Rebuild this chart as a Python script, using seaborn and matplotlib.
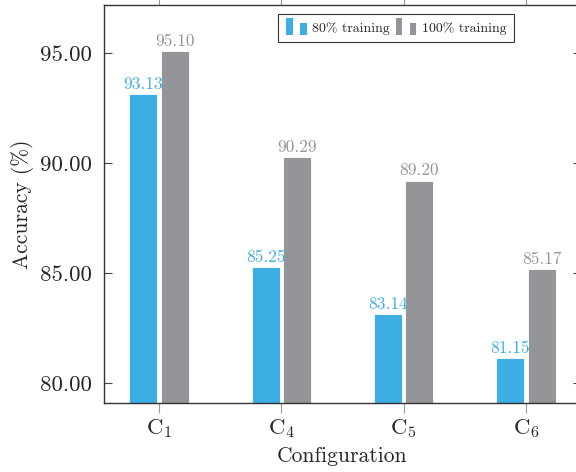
import matplotlib
matplotlib.use("Agg")
import matplotlib.pyplot as plt
from matplotlib.legend_handler import HandlerBase
from matplotlib.patches import Patch, Rectangle
from matplotlib.ticker import FormatStrFormatter
import pandas as pd
import seaborn as sns

# values
configs = ["$\\mathrm{C}_1$", "$\\mathrm{C}_4$", "$\\mathrm{C}_5$", "$\\mathrm{C}_6$"]
acc_80 = [93.13, 85.25, 83.14, 81.15]
acc_100 = [95.10, 90.29, 89.20, 85.17]
series_names = ["80% training", "100% training"]
y_ticks = [80, 85, 90, 95]

BLUE = "#3daee3"
GREY = "#939598"


class BarPairHandler(HandlerBase):
    """pgfplots-style ybar legend image: two little bars of different height."""

    def create_artists(self, legend, orig_handle, xdescent, ydescent,
                       width, height, fontsize, trans):
        color = orig_handle.get_facecolor()
        bw = width * 0.33
        tall = Rectangle((-xdescent, -ydescent - height * 0.35), bw, height * 1.75,
                         facecolor=color, edgecolor="none", transform=trans)
        short = Rectangle((-xdescent + width * 0.67, -ydescent - height * 0.35), bw, height * 1.2,
                          facecolor=color, edgecolor="none", transform=trans)
        return [tall, short]


df = pd.DataFrame({
    "config": configs * 2,
    "accuracy": acc_80 + acc_100,
    "series": [series_names[0]] * len(configs) + [series_names[1]] * len(configs),
})

sns.set_style("ticks")
plt.rcParams["font.family"] = ["cmr10", "DejaVu Serif"]
plt.rcParams["mathtext.fontset"] = "cm"
plt.rcParams["axes.formatter.use_mathtext"] = True

fig = plt.figure(figsize=(5.76, 4.72), dpi=100)
ax = fig.add_axes([104 / 576, 69 / 472, 477 / 576, 398 / 472])

sns.barplot(data=df, x="config", y="accuracy", hue="series",
            palette=[BLUE, GREY], saturation=1, width=0.516, gap=0.11,
            edgecolor="white", linewidth=0.6, ax=ax, legend=False)

for container, color in zip(ax.containers, [BLUE, GREY]):
    ax.bar_label(container, fmt="%.2f", padding=1.5, color=color, fontsize=12.5)

ax.set_xlim(-0.45, 3.45)
ax.set_ylim(79.09, 97.18)
ax.set_yticks(y_ticks)
ax.yaxis.set_major_formatter(FormatStrFormatter("%.2f"))

ax.set_xlabel("Configuration", fontsize=15.5, labelpad=4)
ax.set_ylabel("Accuracy (%)", fontsize=15.5, labelpad=4)
ax.tick_params(axis="y", direction="in", left=True, right=True, length=6,
               width=0.8, color="#444444", labelsize=16.5, pad=9)
ax.tick_params(axis="x", direction="out", bottom=True, top=True, length=7,
               width=0.8, color="#999999", labelsize=16.5, pad=3.5)
for spine in ax.spines.values():
    spine.set_visible(True)
    spine.set_linewidth(1.0)
    spine.set_color("#333333")

handles = [Patch(facecolor=BLUE), Patch(facecolor=GREY)]
leg = ax.legend(handles, series_names, loc="upper right",
                bbox_to_anchor=(0.86, 0.977), borderaxespad=0,
                ncol=2, fontsize=10, frameon=True, fancybox=False,
                handlelength=1.5, handletextpad=0.4, columnspacing=0.4,
                borderpad=0.55,
                handler_map={Patch: BarPairHandler()})
leg.get_frame().set_edgecolor("black")
leg.get_frame().set_linewidth(0.8)

fig.savefig("out.png", dpi=100)
